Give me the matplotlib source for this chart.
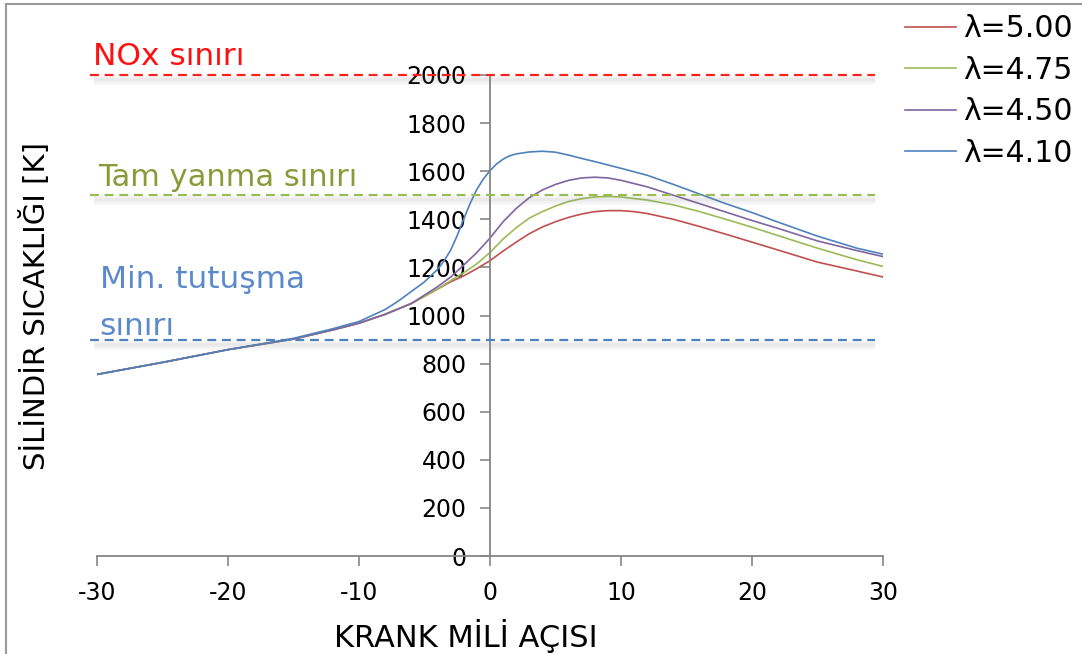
import matplotlib.pyplot as plt
import matplotlib.transforms as mtransforms
from matplotlib.patches import Rectangle

plt.rcParams['axes.unicode_minus'] = False

# crank angle [deg] and cylinder temperature [K] for each lambda
x_common = [-30, -25, -20, -15, -12, -10, -8, -6, -4]
t_common = [755, 805, 858, 902, 940, 968, 1005, 1050, 1110]

x_red = x_common + [-3, -2, -1, 0, 1, 2, 3, 4, 5, 6, 7, 8, 9, 10, 11, 12, 14, 16, 18, 20, 22, 25, 28, 30]
t_red = t_common + [1140, 1165, 1195, 1228, 1268, 1305, 1340, 1368, 1390, 1408, 1422, 1432, 1436, 1436,
                    1432, 1424, 1400, 1370, 1338, 1305, 1272, 1222, 1185, 1160]

x_green = x_common + [-3, -2, -1, 0, 1, 2, 3, 4, 5, 6, 7, 8, 9, 10, 12, 14, 16, 18, 20, 22, 25, 28, 30]
t_green = t_common + [1145, 1178, 1215, 1262, 1318, 1365, 1405, 1432, 1455, 1474, 1486, 1493, 1495, 1493,
                      1480, 1460, 1432, 1400, 1367, 1332, 1280, 1232, 1204]

x_purple = x_common + [-3, -2, -1, 0, 1, 2, 3, 4, 5, 6, 7, 8, 9, 10, 12, 14, 16, 18, 20, 22, 25, 28, 30]
t_purple = t_common[:-1] + [1120, 1160, 1210, 1262, 1322, 1390, 1445, 1490, 1522, 1545, 1562, 1572, 1575,
                            1572, 1562, 1535, 1500, 1465, 1430, 1395, 1362, 1310, 1270, 1245]

x_blue = [-30, -25, -20, -15, -12, -10, -8, -7, -6, -5, -4, -3.5, -3, -2.5, -2, -1.5, -1, -0.5, 0, 0.5,
          1, 1.5, 2, 3, 4, 5, 6, 7, 8, 10, 12, 14, 16, 18, 20, 22, 25, 28, 30]
t_blue = [755, 805, 858, 905, 945, 975, 1025, 1060, 1100, 1140, 1192, 1228, 1272, 1333, 1402, 1468, 1525,
          1568, 1602, 1630, 1650, 1664, 1672, 1680, 1683, 1679, 1667, 1653, 1640, 1612, 1583, 1545, 1505,
          1465, 1428, 1388, 1330, 1280, 1255]

labels = ['λ=5.00', 'λ=4.75', 'λ=4.50', 'λ=4.10']
colors = ['#C0504D', '#9BBB59', '#8064A2', '#4F81BD']

limits = [2000, 1500, 900]
limit_colors = ['#FF2020', '#9BBB59', '#4F81BD']

fig = plt.figure(figsize=(10.82, 6.54), dpi=100)
ax = fig.add_axes([97 / 1082, 98 / 654, 786 / 1082, 481 / 654])

series = [(x_red, t_red), (x_green, t_green), (x_purple, t_purple), (x_blue, t_blue)]
for (xs, ts), c, lab in zip(series, colors, labels):
    ax.plot(xs, ts, color=c, lw=1.2, label=lab)

# limit lines with a soft shadow underneath
for y, c in zip(limits, limit_colors):
    for dy, lw in [(-5, 7), (-5, 4), (-4, 2)]:
        tr = mtransforms.offset_copy(ax.transData, fig=fig, y=dy, units='dots')
        ax.plot([-30.2, 29.4], [y, y], color='#808080', lw=lw, alpha=0.06, solid_capstyle='butt',
                transform=tr, clip_on=False, zorder=4)
    ax.plot([-30.5, 29.4], [y, y], color=c, lw=1.6, ls=(0, (4, 2.6)), clip_on=False, zorder=5)

ax.set_xlim(-30, 30)
ax.set_ylim(0, 2000)
ax.set_xticks(range(-30, 31, 10))
ax.set_yticks(range(0, 2001, 200))

for s in ['top', 'right']:
    ax.spines[s].set_visible(False)
ax.spines['left'].set_position(('data', 0))
for s in ['left', 'bottom']:
    ax.spines[s].set_color('#868686')
    ax.spines[s].set_linewidth(1.3)
ax.tick_params(axis='y', direction='out', length=7, width=1.2, color='#868686', pad=10, labelsize=17)
ax.tick_params(axis='x', direction='out', length=7, width=1.2, color='#868686', pad=11, labelsize=17)

ax.text(-30.3, 2040, 'NOx sınırı', color='#FF1010', fontsize=22.5, ha='left', va='baseline')
ax.text(-29.9, 1540, 'Tam yanma sınırı', color='#8A9A3A', fontsize=22, ha='left', va='baseline')
ax.text(-29.8, 1115, 'Min. tutuşma', color='#5A8ACB', fontsize=22.5, ha='left', va='baseline')
ax.text(-29.8, 920, 'sınırı', color='#5A8ACB', fontsize=22.5, ha='left', va='baseline')

fig.text(466 / 1082, 1 - 636 / 654, 'KRANK MİLİ AÇISI', fontsize=22, ha='center', va='center')
fig.text(36 / 1082, 1 - 306 / 654, 'SİLİNDİR SICAKLIĞI [K]', fontsize=21, ha='center', va='center',
         rotation=90, family=['Liberation Sans Narrow', 'DejaVu Sans'])

ax.legend(loc='upper left', bbox_to_anchor=(905 / 1082, 1 - 14 / 654), bbox_transform=fig.transFigure,
          frameon=False, fontsize=21.5, handlelength=1.7, handletextpad=0.25, labelspacing=0.42,
          borderpad=0, borderaxespad=0)

fig.patches.append(Rectangle((6 / 1082, -0.1), 1.2, 1 - 4 / 654 + 0.1, transform=fig.transFigure,
                             fill=False, edgecolor='#9A9A9A', lw=1.5))

plt.savefig('out.png', dpi=100)
plt.close()
